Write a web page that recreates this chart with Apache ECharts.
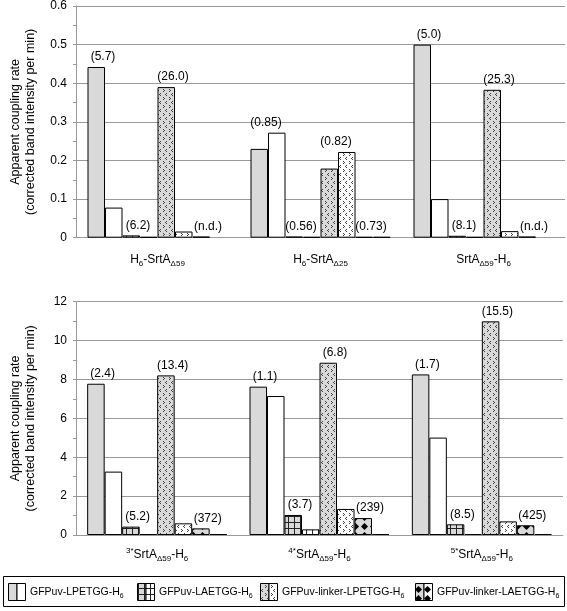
<!DOCTYPE html>
<html>
<head>
<meta charset="utf-8">
<script src="https://cdn.jsdelivr.net/npm/echarts@6/dist/echarts.min.js"></script>
<style>
  html, body { margin: 0; padding: 0; background: #fff; }
  #chart { width: 567px; height: 611px; }
</style>
</head>
<body>
<div id="chart"></div>
<script>
// ---------------- DATA ----------------
const topCategories = ['H6-SrtAΔ59', 'H6-SrtAΔ25', 'SrtAΔ59-H6'];
const topCategoryLabels = ['H{sub|6}-SrtA{sub|Δ59}', 'H{sub|6}-SrtA{sub|Δ25}', 'SrtA{sub|Δ59}-H{sub|6}'];
const bottomCategories = ['3*SrtAΔ59-H6', '4*SrtAΔ59-H6', '5*SrtAΔ59-H6'];
const bottomCategoryLabels = ['{sup|3*}SrtA{sub|Δ59}-H{sub|6}', '{sup|4*}SrtA{sub|Δ59}-H{sub|6}', '{sup|5*}SrtA{sub|Δ59}-H{sub|6}'];

const substrates = ['GFPuv-LPETGG-H6', 'GFPuv-LAETGG-H6', 'GFPuv-linker-LPETGG-H6', 'GFPuv-linker-LAETGG-H6'];
const substrateLegendLabels = ['GFPuv-LPETGG-H{sub|6}', 'GFPuv-LAETGG-H{sub|6}', 'GFPuv-linker-LPETGG-H{sub|6}', 'GFPuv-linker-LAETGG-H{sub|6}'];

// top panel (per substrate, per category); null = not detected
const topGrayLPETGG = [0.442, 0.23, 0.50];
const topWhiteLPETGG = [0.078, 0.272, 0.10];
const topGrayLAETGG = [0.006, 0.003, 0.005];
const topWhiteLAETGG = [0.002, 0.002, 0.002];
const topGrayLinkerLPETGG = [0.39, 0.179, 0.383];
const topWhiteLinkerLPETGG = [0.016, 0.222, 0.017];
const topGrayLinkerLAETGG = [0.003, 0.002, 0.003];
const topWhiteLinkerLAETGG = [null, 0.002, null];

const topLabelsLPETGG = ['(5.7)', '(0.85)', '(5.0)'];
const topLabelsLAETGG = ['(6.2)', '(0.56)', '(8.1)'];
const topLabelsLinkerLPETGG = ['(26.0)', '(0.82)', '(25.3)'];
const topLabelsLinkerLAETGG = ['(n.d.)', '(0.73)', '(n.d.)'];

// bottom panel
const botGrayLPETGG = [7.78, 7.63, 8.26];
const botWhiteLPETGG = [3.26, 7.15, 5.01];
const botGrayLAETGG = [0.43, 1.03, 0.55];
const botWhiteLAETGG = [0.05, 0.29, 0.05];
const botGrayLinkerLPETGG = [8.21, 8.86, 10.99];
const botWhiteLinkerLPETGG = [0.6, 1.34, 0.7];
const botGrayLinkerLAETGG = [0.34, 0.87, 0.5];
const botWhiteLinkerLAETGG = [0.05, 0.05, 0.05];

const botLabelsLPETGG = ['(2.4)', '(1.1)', '(1.7)'];
const botLabelsLAETGG = ['(5.2)', '(3.7)', '(8.5)'];
const botLabelsLinkerLPETGG = ['(13.4)', '(6.8)', '(15.5)'];
const botLabelsLinkerLAETGG = ['(372)', '(239)', '(425)'];

const yTopMax = 0.6, yTopInterval = 0.1;
const yBotMax = 12, yBotInterval = 2;

// ---------------- STYLE ----------------
const FONT = '"Liberation Sans", Arial, Helvetica, sans-serif';
const GRAY = '#d9d9d9';
const AXIS_GRAY = '#9a9a9a';
const BW = 17.5;

function canvasTile(w, h, bg, draw) {
  const c = document.createElement('canvas');
  c.width = w; c.height = h;
  const ctx = c.getContext('2d');
  ctx.fillStyle = bg; ctx.fillRect(0, 0, w, h);
  draw(ctx);
  return { image: c, repeat: 'repeat' };
}
function gridPattern(bg) {
  return canvasTile(6, 6, bg, ctx => {
    ctx.fillStyle = '#222';
    ctx.fillRect(0, 0, 6, 1);
    ctx.fillRect(0, 0, 1, 6);
  });
}
function chevronPattern(bg) {
  return canvasTile(6, 8, bg, ctx => {
    ctx.fillStyle = '#444';
    ctx.fillRect(1, 1, 1, 1); ctx.fillRect(2, 2, 1, 1); ctx.fillRect(1, 3, 1, 1);
    ctx.fillRect(4, 5, 1, 1); ctx.fillRect(3, 6, 1, 1); ctx.fillRect(4, 7, 1, 1);
  });
}
function diamondPattern(bg) {
  return canvasTile(9, 9, bg, ctx => {
    ctx.fillStyle = '#000';
    ctx.beginPath();
    ctx.moveTo(4.5, 1); ctx.lineTo(8, 4.5); ctx.lineTo(4.5, 8); ctx.lineTo(1, 4.5);
    ctx.closePath(); ctx.fill();
  });
}
const fills = [
  [GRAY, '#ffffff'],
  [gridPattern(GRAY), gridPattern('#ffffff')],
  [chevronPattern(GRAY), chevronPattern('#ffffff')],
  [diamondPattern(GRAY), diamondPattern('#ffffff')]
];

const topGray = [topGrayLPETGG, topGrayLAETGG, topGrayLinkerLPETGG, topGrayLinkerLAETGG];
const topWhite = [topWhiteLPETGG, topWhiteLAETGG, topWhiteLinkerLPETGG, topWhiteLinkerLAETGG];
const topLabels = [topLabelsLPETGG, topLabelsLAETGG, topLabelsLinkerLPETGG, topLabelsLinkerLAETGG];
const botGray = [botGrayLPETGG, botGrayLAETGG, botGrayLinkerLPETGG, botGrayLinkerLAETGG];
const botWhite = [botWhiteLPETGG, botWhiteLAETGG, botWhiteLinkerLPETGG, botWhiteLinkerLAETGG];
const botLabels = [botLabelsLPETGG, botLabelsLAETGG, botLabelsLinkerLPETGG, botLabelsLinkerLAETGG];

function buildSeries(grays, whites, labels, axisIndex) {
  const out = [];
  for (let s = 0; s < 4; s++) {
    [0, 1].forEach(variant => {
      const vals = variant === 0 ? grays[s] : whites[s];
      const data = vals.map((v, gi) => {
        const g = grays[s][gi] || 0, w = whites[s][gi] || 0;
        const item = { value: v === null ? '-' : v };
        const carries = variant === 0 ? g >= w : w > g;
        if (carries && v !== null) {
          item.label = {
            show: true,
            position: 'top',
            distance: 4,
            formatter: labels[s][gi],
            offset: [variant === 0 ? BW / 2 - 2 : -BW / 2 - 2, 0],
            color: '#000',
            fontSize: 12,
            fontFamily: FONT
          };
        }
        return item;
      });
      out.push({
        name: substrates[s] + (variant === 0 ? '' : ' (b)'),
        type: 'bar',
        xAxisIndex: axisIndex,
        yAxisIndex: axisIndex,
        barWidth: BW,
        barGap: '0%',
        data: data,
        itemStyle: { color: fills[s][variant], borderColor: '#000', borderWidth: 1 },
        label: { show: false },
        emphasis: { disabled: true },
        animation: false
      });
    });
  }
  return out;
}

const richCat = {
  sub: { fontSize: 8, lineHeight: 8, verticalAlign: 'bottom', fontFamily: FONT, color: '#000' },
  sup: { fontSize: 8, lineHeight: 8, verticalAlign: 'top', fontFamily: FONT, color: '#000' }
};

function xAxisCfg(gridIndex, cats, labels, margin) {
  return {
    type: 'category', gridIndex, data: cats,
    axisLine: { show: true, lineStyle: { color: AXIS_GRAY, width: 1 } },
    axisTick: { show: false },
    axisLabel: {
      interval: 0, margin, color: '#000', fontSize: 12, fontFamily: FONT, lineHeight: 16,
      formatter: (v, i) => labels[i], rich: richCat
    }
  };
}
function yAxisCfg(gridIndex, max, interval) {
  return {
    type: 'value', gridIndex, min: 0, max, interval,
    name: 'Apparent coupling rate\n(corrected band intensity per min)',
    nameLocation: 'middle', nameGap: 38,
    nameTextStyle: { color: '#000', fontSize: 12.5, fontFamily: FONT, lineHeight: 15 },
    axisLine: { show: true, lineStyle: { color: AXIS_GRAY, width: 1 } },
    axisTick: { show: true, length: 3, lineStyle: { color: AXIS_GRAY } },
    minorTick: { show: true, splitNumber: 2, length: 3, lineStyle: { color: AXIS_GRAY } },
    splitLine: { show: true, lineStyle: { color: AXIS_GRAY, width: 1 } },
    axisLabel: { margin: 9, color: '#000', fontSize: 12, fontFamily: FONT }
  };
}

// legend graphics
const legendSwatchX = [8, 137, 260, 415];
const legendTextX = [30, 159, 282, 437];
const legendY = 583, legendH = 17, legendW = 17;
const graphics = [{
  type: 'rect', shape: { x: 3.5, y: 576.5, width: 561, height: 30 },
  style: { fill: '#fff', stroke: '#000', lineWidth: 1 }, z: 10
}];
for (let s = 0; s < 4; s++) {
  const x = legendSwatchX[s];
  graphics.push({ type: 'rect', shape: { x: x + 0.5, y: legendY + 0.5, width: legendW / 2, height: legendH },
    style: { fill: fills[s][0], stroke: '#000', lineWidth: 1 }, z: 11 });
  graphics.push({ type: 'rect', shape: { x: x + 0.5 + legendW / 2, y: legendY + 0.5, width: legendW / 2, height: legendH },
    style: { fill: fills[s][1], stroke: '#000', lineWidth: 1 }, z: 11 });
  graphics.push({ type: 'text', x: legendTextX[s], y: legendY + legendH / 2 + 1, z: 11,
    style: { text: substrateLegendLabels[s], fontSize: 10.5, fontFamily: FONT, fill: '#000',
      verticalAlign: 'middle', align: 'left', lineHeight: 14,
      rich: { sub: { fontSize: 7, lineHeight: 7, verticalAlign: 'bottom', fontFamily: FONT, fill: '#000' } } } });
}

const option = {
  animation: false,
  backgroundColor: '#fff',
  textStyle: { fontFamily: FONT },
  grid: [
    { left: 71, right: 2, top: 5, height: 232.7 },
    { left: 71, right: 4, top: 301.7, height: 233.3 }
  ],
  xAxis: [
    xAxisCfg(0, topCategories, topCategoryLabels, 14),
    xAxisCfg(1, bottomCategories, bottomCategoryLabels, 12)
  ],
  yAxis: [
    yAxisCfg(0, yTopMax, yTopInterval),
    yAxisCfg(1, yBotMax, yBotInterval)
  ],
  series: [
    ...buildSeries(topGray, topWhite, topLabels, 0),
    ...buildSeries(botGray, botWhite, botLabels, 1)
  ],
  graphic: graphics
};

const chart = echarts.init(document.getElementById('chart'), null, { renderer: 'canvas' });
chart.setOption(option);
</script>
</body>
</html>
